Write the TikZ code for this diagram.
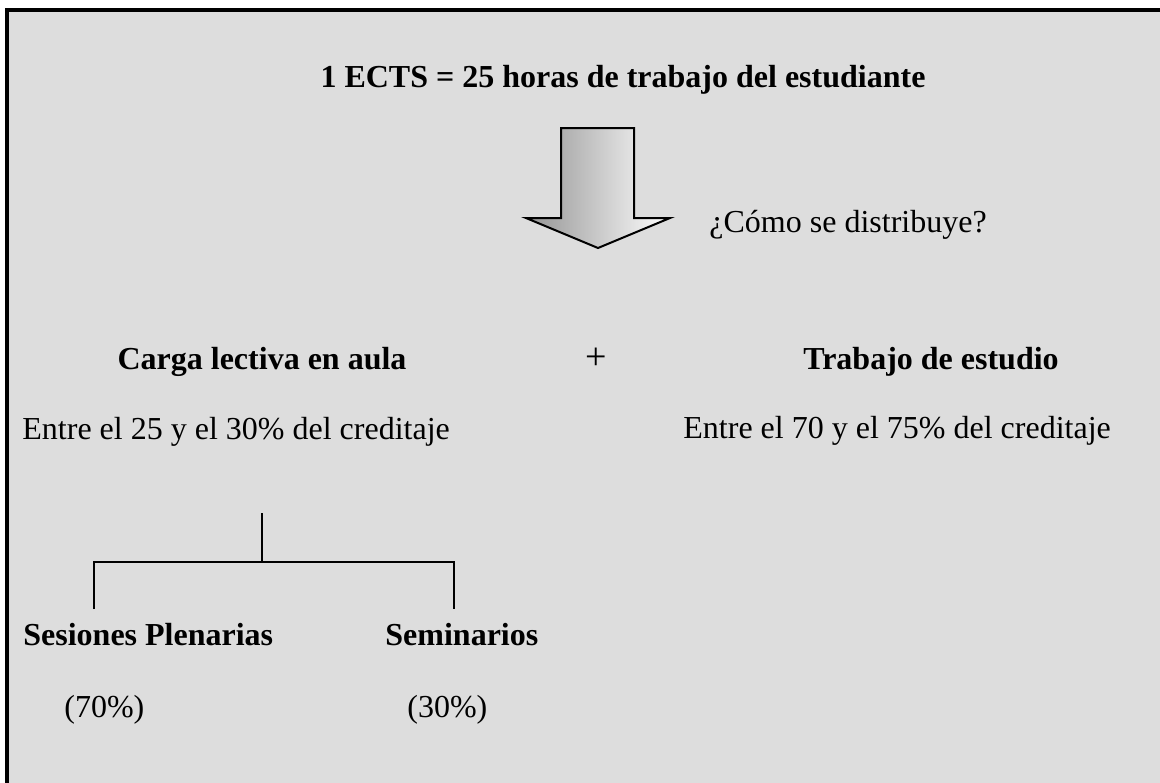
\documentclass[tikz,border=0pt]{standalone}
\usepackage{fontspec}
\setmainfont{Liberation Serif}
\definecolor{bg}{HTML}{DDDDDD}
\tikzset{
  txt/.style={inner sep=0pt, font=\fontsize{16}{19}\selectfont},
  btxt/.style={txt, font=\fontsize{16}{19}\selectfont\bfseries},
  conn/.style={line width=1.2pt, black},
}
\begin{document}
\begin{tikzpicture}[x=0.5pt,y=-0.5pt]
\useasboundingbox (0,0) rectangle (1160,782);
\clip (0,0) rectangle (1160,782);
\fill[white] (0,0) rectangle (1160,782);
\draw[line width=1.6pt, fill=bg] (7,10) rectangle (1180,800);
% title
\node[btxt, anchor=base] (title) at (623,87) {1 ECTS = 25 horas de trabajo del estudiante};
% block arrow
\path[left color=black!42, right color=white, draw=black, line width=1pt, line join=miter]
  (561,128) -- (634,128) -- (634,218) -- (670,218) -- (598,248) -- (526,218) -- (561,218) -- cycle;
\node[txt, anchor=base west] (q) at (709,232) {¿Cómo se distribuye?};
% second row
\node[btxt, anchor=base] (carga) at (262,369) {Carga lectiva en aula};
\node[txt, anchor=base, font=\fontsize{19}{22}\selectfont] (plus) at (596,369) {+};
\node[btxt, anchor=base] (trab) at (931,369) {Trabajo de estudio};
\node[txt, anchor=base west] (e1) at (22,439) {Entre el 25 y el 30\% del creditaje};
\node[txt, anchor=base west] (e2) at (683,438) {Entre el 70 y el 75\% del creditaje};
% tree
\coordinate (top) at (262,513);
\coordinate (mid) at (262,562);
\coordinate (l) at (94,562);
\coordinate (r) at (454,562);
\coordinate (lb) at (94,609);
\coordinate (rb) at (454,609);
\draw[conn] (top) -- (mid);
\draw[conn] (lb) -- (l) -- (r) -- (rb);
\node[btxt, anchor=base west] (ses) at (23,645) {Sesiones Plenarias};
\node[btxt, anchor=base west] (sem) at (385,645) {Seminarios};
\node[txt, anchor=base west] (p70) at (64,717) {(70\%)};
\node[txt, anchor=base west] (p30) at (407,717) {(30\%)};
\end{tikzpicture}
\end{document}
